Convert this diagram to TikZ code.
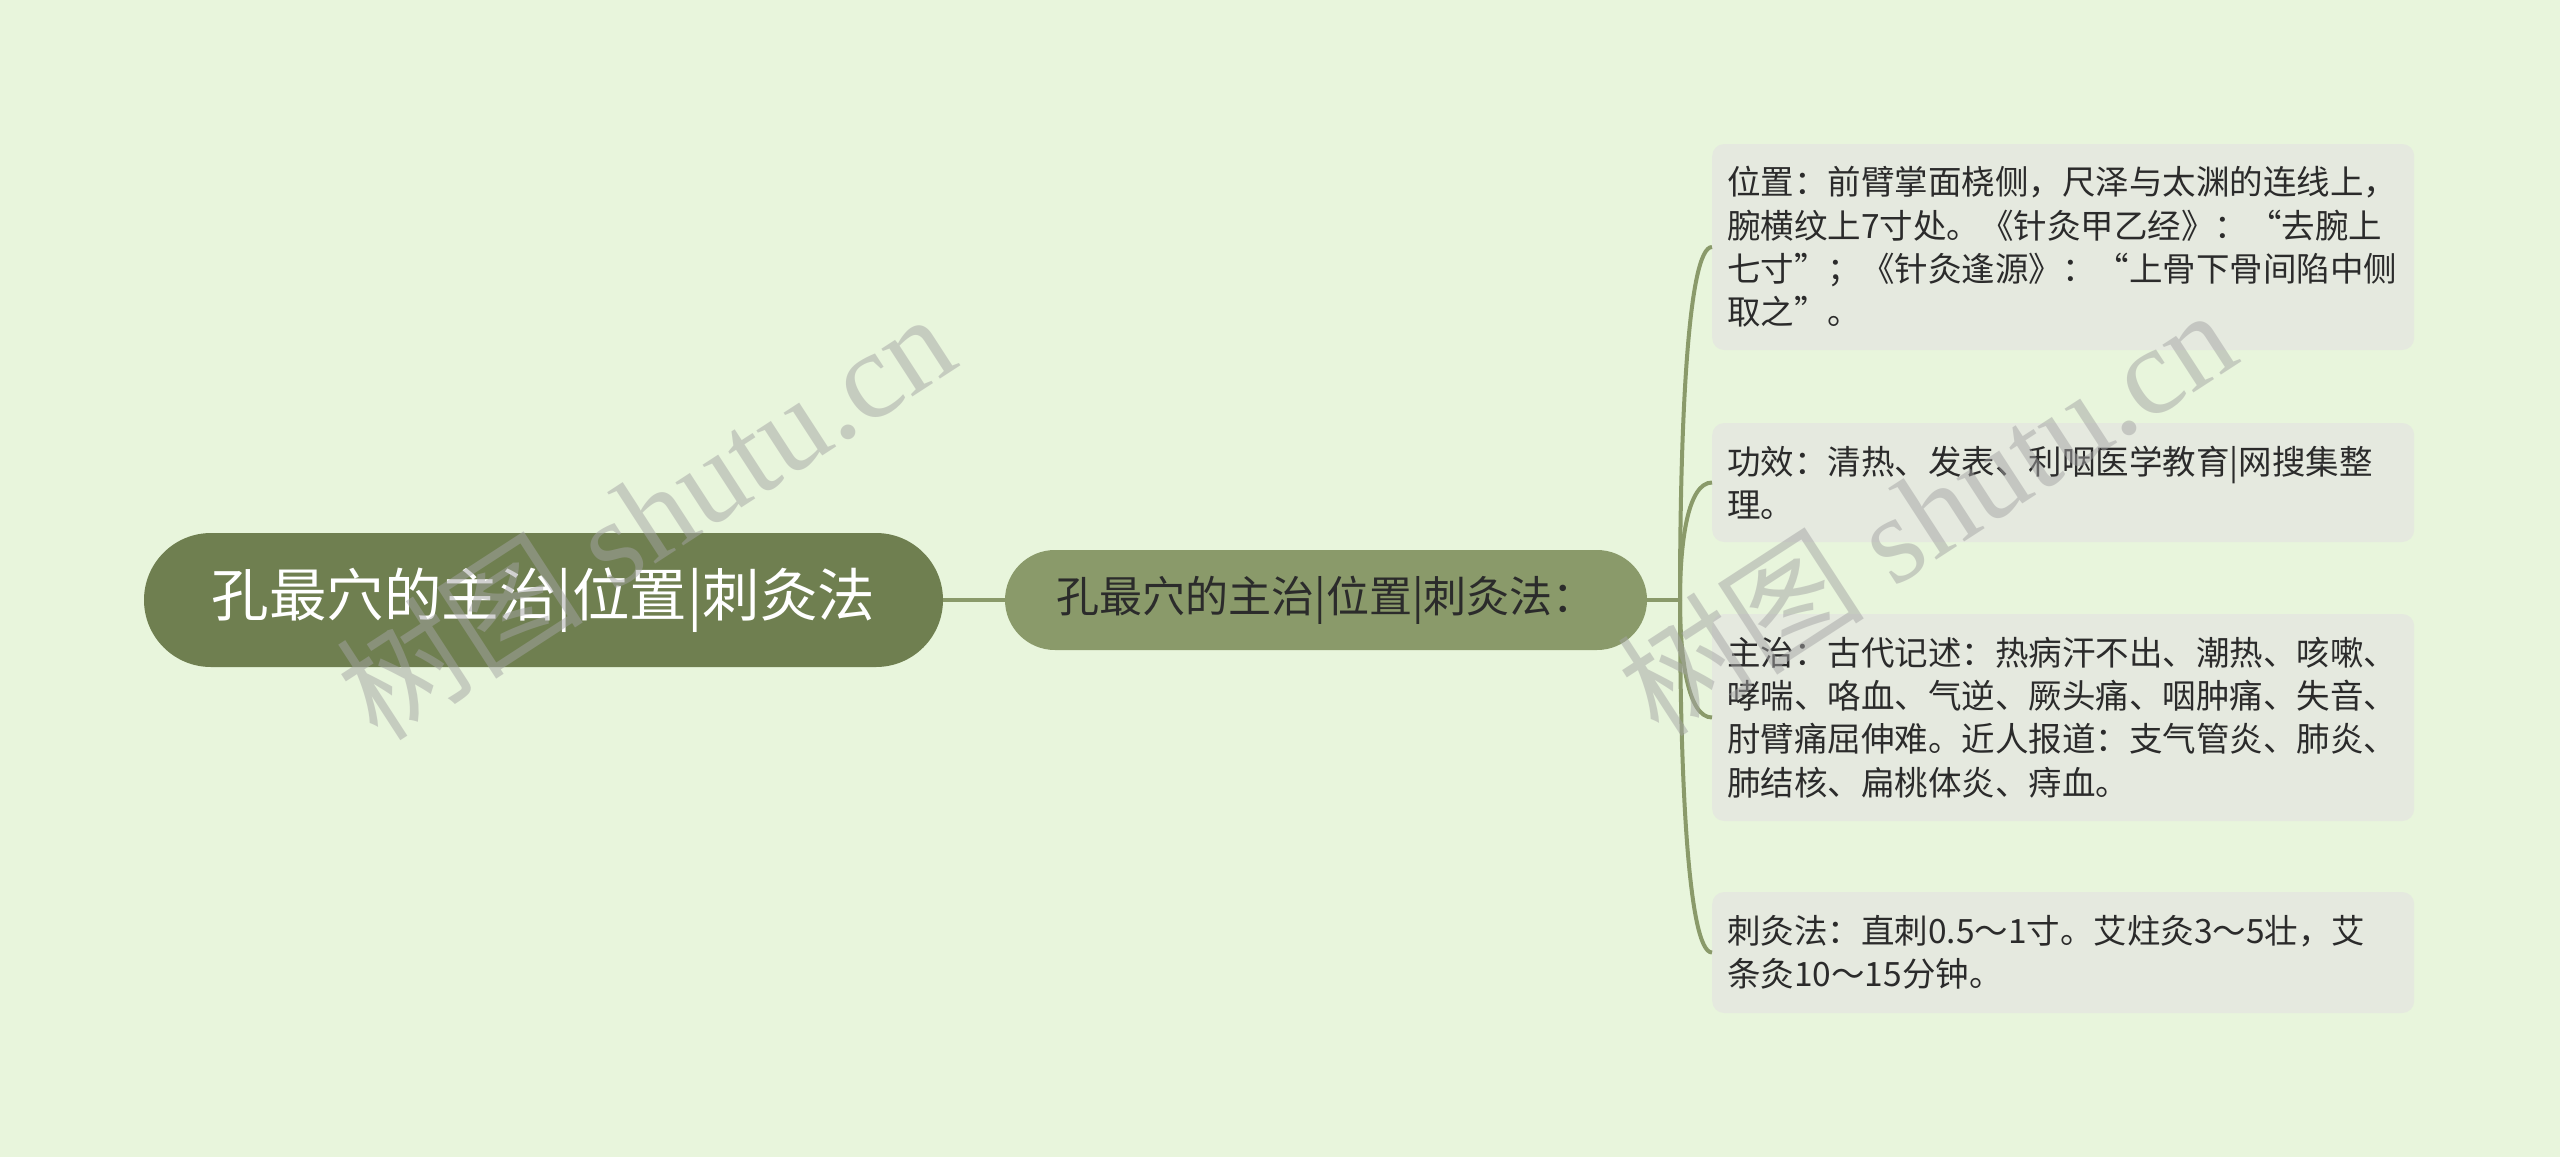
\documentclass[tikz,border=0pt]{standalone}
\usepackage{fontspec}
\setmainfont{Liberation Serif}
\newfontfamily\cjk{Noto Sans CJK SC}
\definecolor{bgc}{HTML}{E8F5DC}
\definecolor{rootc}{HTML}{6F7F50}
\definecolor{midc}{HTML}{8A9A6A}
\definecolor{leafc}{HTML}{E5E9DF}
\definecolor{linec}{HTML}{8A9A6A}
\definecolor{txtc}{HTML}{2B2B2B}
\definecolor{wmc}{HTML}{A4A4A4}
\tikzset{
  rootbox/.style={fill=rootc, rounded corners=67pt, minimum width=799pt, minimum height=134pt, inner sep=0pt,
    text=white, font=\cjk\fontsize{57.5}{60}\selectfont},
  midbox/.style={fill=midc, rounded corners=50pt, minimum width=642pt, minimum height=100pt, inner sep=0pt,
    text=txtc, font=\cjk\fontsize{43}{48}\selectfont},
  leafbox/.style={fill=leafc, rounded corners=12pt, text width=672pt, inner xsep=15pt, inner ysep=0pt,
    align=left, anchor=west, text=txtc, font=\cjk\fontsize{33.5}{43.3}\selectfont},
  conn/.style={draw=linec, line width=4pt},
  wmark/.style={text=wmc, opacity=0.5, rotate=33, inner sep=0pt}
}
\begin{document}
\begin{tikzpicture}[x=1pt,y=-1pt]
\useasboundingbox (0,0) rectangle (2560,1157);
\fill[bgc] (0,0) rectangle (2560,1157);

\node[rootbox] (root) at (543.5,600) {孔最穴的主治|位置|刺灸法};
\node[midbox] (mid) at (1326,600) {孔最穴的主治|位置|刺灸法：};
\coordinate (hub) at (1680,600);

\node[leafbox, minimum height=206pt] (l1) at (1712,247) {位置：前臂掌面桡侧，尺泽与太渊的连线上，\\腕横纹上7寸处。《针灸甲乙经》：“去腕上\\七寸”；《针灸逢源》：“上骨下骨间陷中侧\\取之”。};
\node[leafbox, minimum height=119pt] (l2) at (1712,482.5) {功效：清热、发表、利咽医学教育|网搜集整\\理。};
\node[leafbox, minimum height=207pt] (l3) at (1712,717.5) {主治：古代记述：热病汗不出、潮热、咳嗽、\\哮喘、咯血、气逆、厥头痛、咽肿痛、失音、\\肘臂痛屈伸难。近人报道：支气管炎、肺炎、\\肺结核、扁桃体炎、痔血。};
\node[leafbox, minimum height=121pt] (l4) at (1712,952.5) {刺灸法：直刺0.5～1寸。艾炷灸3～5壮，艾\\条灸10～15分钟。};

\draw[conn] (root.east) -- (mid.west);
\draw[conn] (mid.east) -- (hub);
\draw[conn] (hub) .. controls (1680,423) and (1688,247) .. (l1.west);
\draw[conn] (hub) .. controls (1680,541) and (1688,482.5) .. (l2.west);
\draw[conn] (hub) .. controls (1680,659) and (1688,717.5) .. (l3.west);
\draw[conn] (hub) .. controls (1680,776) and (1688,952.5) .. (l4.west);

\node[wmark] (wm1) at (645,515) {\fontsize{124}{126}\selectfont{\cjk 树图} shutu.cn};
\node[wmark] (wm2) at (1926,511) {\fontsize{124}{126}\selectfont{\cjk 树图} shutu.cn};
\end{tikzpicture}
\end{document}
